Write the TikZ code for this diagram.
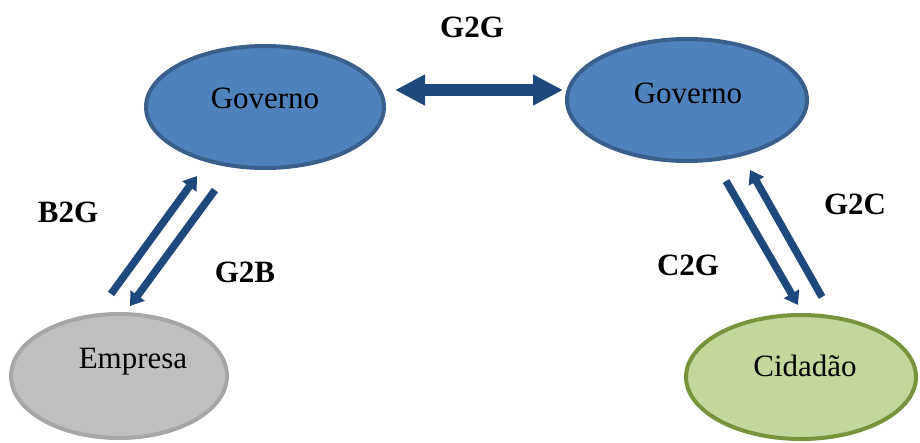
\documentclass[tikz,border=0pt]{standalone}
\usepackage{fontspec}
\setmainfont{Liberation Serif}
\usetikzlibrary{shapes.geometric,arrows.meta}

\definecolor{govfill}{HTML}{4F81BD}
\definecolor{govedge}{HTML}{3A5F8C}
\definecolor{empfill}{HTML}{BFBFBF}
\definecolor{empedge}{HTML}{A6A6A6}
\definecolor{cidfill}{HTML}{C3D69B}
\definecolor{cidedge}{HTML}{77933C}
\definecolor{flow}{HTML}{1F497D}

\tikzset{
  actor/.style={ellipse, draw, line width=4pt, inner sep=0pt},
  actortext/.style={font=\fontsize{31}{36}\selectfont, text=black},
  tag/.style={font=\fontsize{31}{36}\selectfont\bfseries, text=black},
  bigflow/.style={draw=flow, line width=12pt,
    {Triangle[length=30pt,width=29pt]}-{Triangle[length=30pt,width=29pt]}},
  smallflow/.style={draw=flow, line width=7.5pt,
    -{Triangle[length=13pt,width=17pt]}}
}

\begin{document}
\begin{tikzpicture}[x=1pt,y=-1pt]
  \useasboundingbox (0,0) rectangle (920,442);

  % actors
  \node[actor, fill=govfill, draw=govedge, minimum width=238pt, minimum height=122pt] (govL) at (265,107) {};
  \node[actor, fill=govfill, draw=govedge, minimum width=240pt, minimum height=122pt] (govR) at (687,100) {};
  \node[actor, fill=empfill, draw=empedge, minimum width=216pt, minimum height=124pt] (emp) at (119,376) {};
  \node[actor, fill=cidfill, draw=cidedge, minimum width=230pt, minimum height=124pt] (cid) at (801,377) {};

  \node[actortext] (govLtxt) at (265,98) {Governo};
  \node[actortext] (govRtxt) at (688,93) {Governo};
  \node[actortext] (emptxt) at (133,362) {Empresa};
  \node[actortext] (cidtxt) at (805,366) {Cidadão};

  % connector end points
  \coordinate (ggA) at (395,90);
  \coordinate (ggB) at (563,90);
  \coordinate (bgS) at (111,294);
  \coordinate (bgE) at (197,176);
  \coordinate (gbS) at (215,190);
  \coordinate (gbE) at (130,306);
  \coordinate (cgS) at (726,181);
  \coordinate (cgE) at (798,305);
  \coordinate (gcS) at (822,297);
  \coordinate (gcE) at (750,170);

  % flows
  \draw[bigflow] (ggA) -- (ggB);
  \draw[smallflow] (bgS) -- (bgE);
  \draw[smallflow] (gbS) -- (gbE);
  \draw[smallflow] (cgS) -- (cgE);
  \draw[smallflow] (gcS) -- (gcE);

  % flow labels
  \node[tag] (lG2G) at (472,27) {G2G};
  \node[tag] (lB2G) at (68,212) {B2G};
  \node[tag] (lG2B) at (245,272) {G2B};
  \node[tag] (lC2G) at (688,265) {C2G};
  \node[tag] (lG2C) at (855,204) {G2C};
\end{tikzpicture}
\end{document}
